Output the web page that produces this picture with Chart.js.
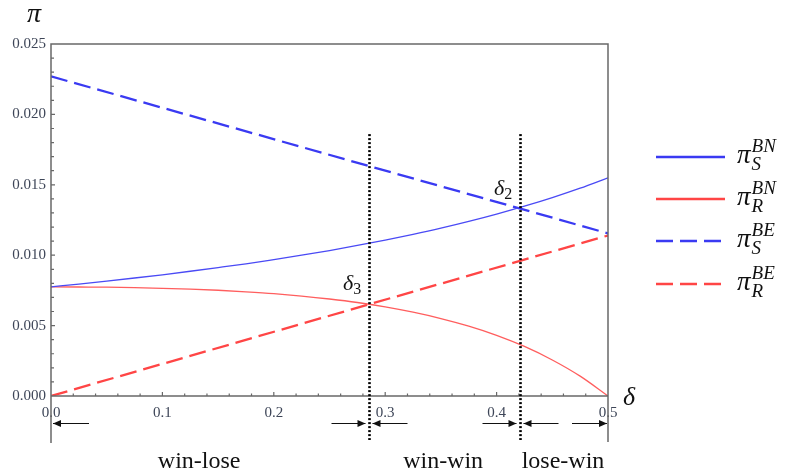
<!DOCTYPE html>
<html>
<head>
<meta charset="utf-8">
<script src="https://cdn.jsdelivr.net/npm/chart.js@4.4.1/dist/chart.umd.min.js"></script>
<style>
  html, body { margin: 0; padding: 0; background: #ffffff; }
  #wrap { width: 785px; height: 473px; }
</style>
</head>
<body>
<div id="wrap"><canvas id="c" width="785" height="473"></canvas></div>
<script>
// δ grid for the curved profits
const deltaGrid = [0, 0.025, 0.05, 0.075, 0.1, 0.125, 0.15, 0.175, 0.2, 0.225, 0.25,
                   0.275, 0.3, 0.325, 0.35, 0.375, 0.4, 0.425, 0.45, 0.475, 0.5];
// supplier profit, BN scheme
const piSBN = [0.00775, 0.00795, 0.00816, 0.00838, 0.00861, 0.00886, 0.00912, 0.00939, 0.00969, 0.01000, 0.01033,
               0.01069, 0.01107, 0.01148, 0.01192, 0.01240, 0.01292, 0.01348, 0.01409, 0.01476, 0.01550];
// retailer profit, BN scheme
const piRBN = [0.00775, 0.00774, 0.00773, 0.00770, 0.00765, 0.00759, 0.00751, 0.00740, 0.00727, 0.00710, 0.00689,
               0.00664, 0.00633, 0.00595, 0.00550, 0.00496, 0.00431, 0.00352, 0.00256, 0.00141, 0.00000];
// straight-line profits under BE
const deltaEnds = [0, 0.5];
const piSBE = [0.0227, 0.01155];
const piRBE = [0.0, 0.0114];

const xTickValues = [0, 0.1, 0.2, 0.3, 0.4, 0.5];
const yTickValues = [0, 0.005, 0.01, 0.015, 0.02, 0.025];

// thresholds δ3 and δ2
const thresholdNames = ['3', '2'];
const thresholdValues = [0.2855, 0.421];

const regionLabels = ['win-lose', 'win-win', 'lose-win'];
const regionCentres = [0.133, 0.352, 0.4596];

const legendSup = ['BN', 'BN', 'BE', 'BE'];
const legendSub = ['S', 'R', 'S', 'R'];

const toPts = (xs, ys) => xs.map((v, i) => ({ x: v, y: ys[i] }));

const BLUE = '#3a3af2';
const RED = '#ff4545';
const BLUE_THIN = '#4a4af5';
const RED_THIN = '#ff5e5e';
const TICK_COLOR = '#3e4658';
const AXIS_COLOR = '#686868';
const SERIF = '"Liberation Serif", "Times New Roman", serif';

function drawSymbol(ctx, x, yBase, main, sub, sup, mainSize, smallSize) {
  ctx.font = 'italic ' + mainSize + 'px ' + SERIF;
  ctx.fillText(main, x, yBase);
  const w = ctx.measureText(main).width;
  ctx.font = 'italic ' + smallSize + 'px ' + SERIF;
  if (sup) ctx.fillText(sup, x + w + 1, yBase - mainSize * 0.42);
  if (sub) ctx.fillText(sub, x + w + 1, yBase + mainSize * 0.27);
}

function arrow(ctx, x1, x2, yy) {
  ctx.beginPath(); ctx.moveTo(x1, yy); ctx.lineTo(x2, yy); ctx.stroke();
  const d = Math.sign(x2 - x1);
  ctx.beginPath();
  ctx.moveTo(x2, yy);
  ctx.lineTo(x2 - d * 8, yy - 3.5);
  ctx.lineTo(x2 - d * 8, yy + 3.5);
  ctx.closePath(); ctx.fill();
}

const decor = {
  id: 'decor',
  afterDraw(chart) {
    const { ctx, chartArea: a, scales: { x, y } } = chart;
    ctx.save();

    // frame and extended axes
    ctx.strokeStyle = AXIS_COLOR; ctx.lineWidth = 1.5; ctx.setLineDash([]);
    ctx.beginPath();
    ctx.moveTo(a.left, a.bottom + 47); ctx.lineTo(a.left, a.top);
    ctx.lineTo(a.right, a.top); ctx.lineTo(a.right, a.bottom + 46);
    ctx.moveTo(a.left, a.bottom); ctx.lineTo(a.right, a.bottom);
    ctx.stroke();

    // inward ticks
    ctx.lineWidth = 1.2;
    ctx.beginPath();
    for (let k = 1; k < 25; k++) {
      const py = y.getPixelForValue(k * 0.001);
      const len = k % 5 === 0 ? 4 : 3;
      ctx.moveTo(a.left, py); ctx.lineTo(a.left + len, py);
    }
    for (let k = 1; k < 25; k++) {
      const px = x.getPixelForValue(k * 0.02);
      const len = k % 5 === 0 ? 4 : 2.5;
      ctx.moveTo(px, a.bottom); ctx.lineTo(px, a.bottom - len);
    }
    ctx.stroke();

    // threshold lines
    ctx.strokeStyle = '#000'; ctx.lineWidth = 2.6; ctx.setLineDash([2, 2]);
    thresholdValues.forEach(v => {
      const px = Math.round(x.getPixelForValue(v)) + 0.5;
      ctx.beginPath();
      ctx.moveTo(px, y.getPixelForValue(0.0186));
      ctx.lineTo(px, a.bottom + 44);
      ctx.stroke();
    });
    ctx.setLineDash([]);

    // threshold names
    ctx.fillStyle = '#111'; ctx.textAlign = 'left'; ctx.textBaseline = 'alphabetic';
    const labelPos = [{ dx: -26, v: 0.0075 }, { dx: -26, v: 0.01428 }];
    thresholdValues.forEach((v, i) => {
      const px = x.getPixelForValue(v) + labelPos[i].dx;
      const py = y.getPixelForValue(labelPos[i].v);
      ctx.font = 'italic 22px ' + SERIF;
      ctx.fillText('δ', px, py);
      const w = ctx.measureText('δ').width;
      ctx.font = '16px ' + SERIF;
      ctx.fillText(thresholdNames[i], px + w, py + 4);
    });

    // axis names
    ctx.font = 'italic 28px ' + SERIF;
    ctx.fillText('π', 27, 22);
    ctx.font = 'italic 26px ' + SERIF;
    ctx.fillText('δ', 623, 405);

    // arrows under the axis
    ctx.strokeStyle = '#111'; ctx.fillStyle = '#111'; ctx.lineWidth = 1;
    const ay = a.bottom + 27.5;
    const p0 = x.getPixelForValue(0), p5 = x.getPixelForValue(0.5);
    const p3 = Math.round(x.getPixelForValue(thresholdValues[0])) + 0.5;
    const p2 = Math.round(x.getPixelForValue(thresholdValues[1])) + 0.5;
    arrow(ctx, p0 + 38, p0 + 2, ay);
    arrow(ctx, p3 - 38, p3 - 4, ay);
    arrow(ctx, p3 + 38, p3 + 3, ay);
    arrow(ctx, p2 - 38, p2 - 4, ay);
    arrow(ctx, p2 + 38, p2 + 3, ay);
    arrow(ctx, p5 - 36, p5 - 1, ay);

    // region names
    ctx.font = '24px ' + SERIF; ctx.textAlign = 'center'; ctx.fillStyle = '#111';
    regionLabels.forEach((t, i) => ctx.fillText(t, x.getPixelForValue(regionCentres[i]), 468));

    // legend
    const sets = chart.data.datasets;
    const ly = [157, 199, 241, 284];
    const legendColors = [BLUE, RED, BLUE, RED];
    ctx.textAlign = 'left';
    sets.forEach((ds, i) => {
      ctx.strokeStyle = legendColors[i]; ctx.lineWidth = 2.6;
      ctx.setLineDash(ds.borderDash || []);
      ctx.beginPath(); ctx.moveTo(656, ly[i]); ctx.lineTo(725, ly[i]); ctx.stroke();
      ctx.setLineDash([]);
      ctx.fillStyle = '#111';
      drawSymbol(ctx, 737, ly[i] + 6, 'π', legendSub[i], legendSup[i], 27, 19);
    });

    ctx.restore();
  }
};

new Chart(document.getElementById('c'), {
  type: 'line',
  data: {
    datasets: [
      { label: 'π_S^BN', data: toPts(deltaGrid, piSBN), borderColor: BLUE_THIN, borderWidth: 1.3,
        pointRadius: 0, cubicInterpolationMode: 'monotone' },
      { label: 'π_R^BN', data: toPts(deltaGrid, piRBN), borderColor: RED_THIN, borderWidth: 1.3,
        pointRadius: 0, cubicInterpolationMode: 'monotone' },
      { label: 'π_S^BE', data: toPts(deltaEnds, piSBE), borderColor: BLUE, borderWidth: 2.3,
        borderDash: [17, 7], pointRadius: 0 },
      { label: 'π_R^BE', data: toPts(deltaEnds, piRBE), borderColor: RED, borderWidth: 2.3,
        borderDash: [17, 7], pointRadius: 0 }
    ]
  },
  options: {
    responsive: false,
    animation: false,
    devicePixelRatio: 1,
    layout: { padding: { left: 0, right: 177, top: 44, bottom: 0 } },
    plugins: { legend: { display: false }, tooltip: { enabled: false } },
    scales: {
      x: {
        type: 'linear', min: 0, max: 0.5,
        afterBuildTicks: s => { s.ticks = xTickValues.map(v => ({ value: v })); },
        afterFit: s => { s.height = 77; },
        grid: { display: false, drawTicks: false },
        border: { display: false },
        ticks: { padding: 8, color: TICK_COLOR, maxRotation: 0, autoSkip: false,
                 font: { family: SERIF, size: 15 }, callback: v => v.toFixed(1) }
      },
      y: {
        type: 'linear', min: 0, max: 0.025,
        afterBuildTicks: s => { s.ticks = yTickValues.map(v => ({ value: v })); },
        afterFit: s => { s.width = 51; },
        grid: { display: false, drawTicks: false },
        border: { display: false },
        ticks: { padding: 5, color: TICK_COLOR, autoSkip: false,
                 font: { family: SERIF, size: 15 }, callback: v => v.toFixed(3) }
      }
    }
  },
  plugins: [decor]
});
</script>
</body>
</html>
